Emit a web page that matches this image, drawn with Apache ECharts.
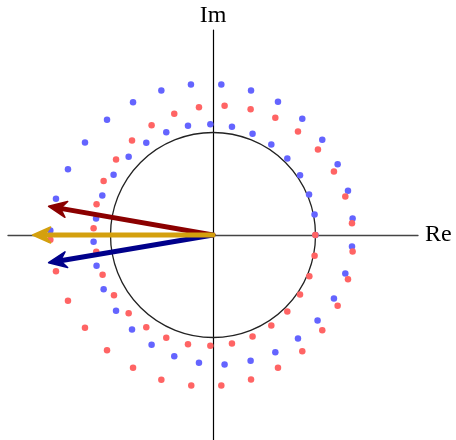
<!DOCTYPE html>
<html>
<head>
<meta charset="utf-8">
<script src="https://cdn.jsdelivr.net/npm/echarts@6/dist/echarts.min.js"></script>
<style>
  html, body { margin: 0; padding: 0; background: #fff; }
  #chart { width: 456px; height: 440px; }
</style>
</head>
<body>
<div id="chart"></div>
<script>
// Counter-clockwise point sequence (Re, Im)
const bluePoints = [
  [1.000, 0.000], [0.991, 0.200], [0.937, 0.395], [0.849, 0.583], [0.725, 0.746],
  [0.569, 0.883], [0.386, 0.987], [0.185, 1.056], [-0.026, 1.081], [-0.244, 1.065],
  [-0.456, 1.003], [-0.651, 0.900], [-0.823, 0.763], [-0.970, 0.587], [-1.080, 0.385],
  [-1.141, 0.161], [-1.165, -0.066], [-1.136, -0.300], [-1.067, -0.529], [-0.946, -0.740],
  [-0.790, -0.922], [-0.599, -1.071], [-0.378, -1.182], [-0.137, -1.247], [0.113, -1.263],
  [0.367, -1.227], [0.608, -1.143], [0.829, -1.010], [1.020, -0.834], [1.180, -0.620],
  [1.291, -0.376], [1.356, -0.112], [1.362, 0.161], [1.317, 0.431], [1.216, 0.691],
  [1.066, 0.929], [0.871, 1.134], [0.634, 1.300], [0.371, 1.410], [0.081, 1.468],
  [-0.215, 1.468], [-0.504, 1.410], [-0.780, 1.296], [-1.034, 1.124], [-1.249, 0.902],
  [-1.415, 0.642], [-1.532, 0.353], [-1.587, 0.044]
];

// Clockwise point sequence (Re, Im)
const redPoints = [
  [0.998, 0.000], [0.991, -0.203], [0.940, -0.402], [0.849, -0.580], [0.725, -0.746],
  [0.569, -0.883], [0.386, -0.990], [0.185, -1.059], [-0.026, -1.081], [-0.244, -1.065],
  [-0.456, -1.003], [-0.651, -0.900], [-0.823, -0.763], [-0.966, -0.587], [-1.077, -0.388],
  [-1.139, -0.164], [-1.165, 0.066], [-1.136, 0.300], [-1.067, 0.527], [-0.946, 0.737],
  [-0.790, 0.922], [-0.599, 1.071], [-0.378, 1.182], [-0.137, 1.247], [0.113, 1.260],
  [0.367, 1.227], [0.608, 1.143], [0.829, 1.010], [1.024, 0.834], [1.180, 0.620],
  [1.291, 0.376], [1.356, 0.115], [1.362, -0.161], [1.317, -0.431], [1.216, -0.691],
  [1.066, -0.929], [0.871, -1.134], [0.634, -1.296], [0.371, -1.410], [0.081, -1.468],
  [-0.212, -1.468], [-0.504, -1.413], [-0.780, -1.296], [-1.034, -1.124], [-1.249, -0.905],
  [-1.415, -0.642], [-1.532, -0.353], [-1.587, -0.047]
];

// Vectors drawn from the origin: [Re, Im] of each tip
const redVector = [-1.604, 0.280];
const blueVector = [-1.604, -0.270];
const goldVector = [-1.760, 0.000];

// Reference circle radius (unit circle)
const circleRadius = [[0, 0, 1]];

const axisRange = [-2, 2];

const chart = echarts.init(document.getElementById('chart'), null, { renderer: 'canvas' });

// Thick vector with a stealth-style head, built in pixel space from the axis scales
function renderArrow(color) {
  return function (params, api) {
    const start = api.coord([0, 0]);
    const end = api.coord([api.value(0), api.value(1)]);
    const dx = end[0] - start[0];
    const dy = end[1] - start[1];
    const len = Math.sqrt(dx * dx + dy * dy);
    const ux = dx / len, uy = dy / len;
    const nx = -uy, ny = ux;
    const headLen = 18, headHalf = 8, notch = 12;
    const back = [end[0] - ux * headLen, end[1] - uy * headLen];
    const notchPt = [end[0] - ux * notch, end[1] - uy * notch];
    return {
      type: 'group',
      children: [
        {
          type: 'line',
          shape: { x1: start[0], y1: start[1], x2: notchPt[0], y2: notchPt[1] },
          style: { stroke: color, lineWidth: 5, lineCap: 'round' }
        },
        {
          type: 'polygon',
          shape: {
            points: [
              end,
              [back[0] + nx * headHalf, back[1] + ny * headHalf],
              notchPt,
              [back[0] - nx * headHalf, back[1] - ny * headHalf]
            ]
          },
          style: { fill: color, stroke: color, lineWidth: 1.5, lineJoin: 'round' }
        }
      ]
    };
  };
}

const nameFont = {
  fontFamily: '"Liberation Serif", "DejaVu Serif", serif',
  fontSize: 24,
  color: '#000'
};

chart.setOption({
  animation: false,
  backgroundColor: '#fff',
  grid: { left: 8, right: 38, top: 30, bottom: 0, containLabel: false },
  xAxis: {
    type: 'value',
    min: axisRange[0], max: axisRange[1],
    name: 'Re',
    nameLocation: 'end',
    nameGap: 7,
    nameTextStyle: nameFont,
    axisLine: { show: true, onZero: true, lineStyle: { color: '#444', width: 1.3 } },
    axisTick: { show: false },
    axisLabel: { show: false },
    splitLine: { show: false }
  },
  yAxis: {
    type: 'value',
    min: axisRange[0], max: axisRange[1],
    name: 'Im',
    nameLocation: 'end',
    nameGap: 2,
    nameTextStyle: nameFont,
    axisLine: { show: true, onZero: true, lineStyle: { color: '#000', width: 1.2 } },
    axisTick: { show: false },
    axisLabel: { show: false },
    splitLine: { show: false }
  },
  series: [
    {
      type: 'custom',
      coordinateSystem: 'cartesian2d',
      data: circleRadius,
      silent: true,
      z: 2,
      renderItem: function (params, api) {
        const c = api.coord([api.value(0), api.value(1)]);
        const r = api.size([api.value(2), 0])[0];
        return {
          type: 'circle',
          shape: { cx: c[0], cy: c[1], r: r },
          style: { fill: 'none', stroke: '#222', lineWidth: 1.3 }
        };
      }
    },
    {
      type: 'scatter',
      data: bluePoints,
      symbolSize: 6.5,
      itemStyle: { color: '#6464ff', opacity: 1 },
      z: 3
    },
    {
      type: 'scatter',
      data: redPoints,
      symbolSize: 6.5,
      itemStyle: { color: '#ff6464', opacity: 1 },
      z: 4
    },
    {
      type: 'custom',
      coordinateSystem: 'cartesian2d',
      data: [redVector],
      z: 5,
      renderItem: renderArrow('#8b0000')
    },
    {
      type: 'custom',
      coordinateSystem: 'cartesian2d',
      data: [blueVector],
      z: 5,
      renderItem: renderArrow('#00008b')
    },
    {
      type: 'custom',
      coordinateSystem: 'cartesian2d',
      data: [goldVector],
      z: 6,
      renderItem: renderArrow('#d4a00e')
    }
  ]
});
</script>
</body>
</html>
